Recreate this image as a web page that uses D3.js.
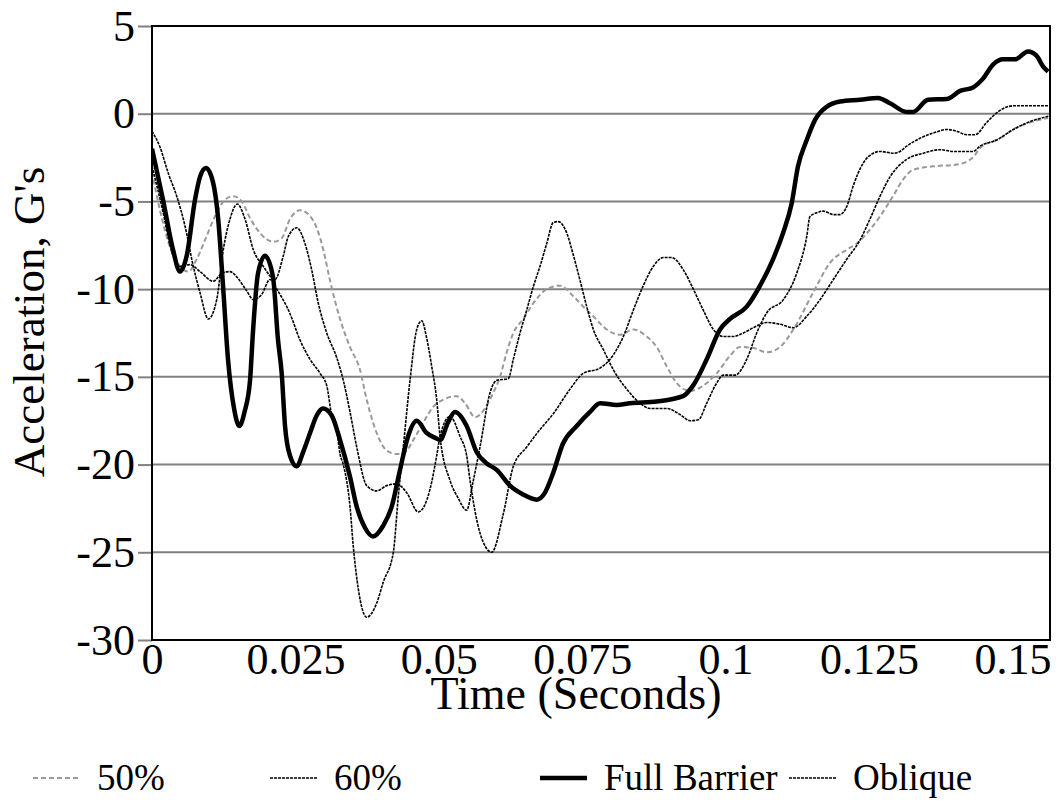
<!DOCTYPE html>
<html>
<head>
<meta charset="utf-8">
<script src="https://cdn.jsdelivr.net/npm/d3@7/dist/d3.min.js"></script>
<style>
  body { margin: 0; background: #fff; }
  svg { display: block; }
  text { font-family: "Liberation Serif", "Times New Roman", serif; fill: #000; }
</style>
</head>
<body>
<svg id="chart" width="1062" height="808"></svg>
<script>
// Axis ticks
const timeTicks = [0, 0.025, 0.05, 0.075, 0.1, 0.125, 0.15];
const timeTickLabels = ["0", "0.025", "0.05", "0.075", "0.1", "0.125", "0.15"];
const accelTicks = [5, 0, -5, -10, -15, -20, -25, -30];

// Series: [time (s), acceleration (G's)]
const offset50 = [
  [0, -3.3], [0.00139, -5.5], [0.00314, -7.6], [0.00488, -8.7], [0.00633, -9.0], [0.00779, -8.3],
  [0.00924, -7.2], [0.01098, -5.85], [0.01273, -4.9], [0.01417, -4.7], [0.01564, -5.0], [0.01709, -5.95],
  [0.01883, -6.8], [0.02115, -7.3], [0.02261, -7.1], [0.02406, -6.0], [0.0258, -5.5], [0.02812, -6.1],
  [0.02986, -7.75], [0.03103, -9.5], [0.03278, -11.7], [0.03452, -13.3], [0.03626, -14.6], [0.03743, -16.3],
  [0.03917, -18.2], [0.04092, -19.2], [0.04266, -19.4], [0.04411, -19.3], [0.04555, -18.6], [0.0473, -17.6],
  [0.04904, -16.7], [0.05078, -16.3], [0.05312, -16.1], [0.05457, -16.5], [0.05631, -17.3], [0.05805, -16.8],
  [0.0595, -15.9], [0.06067, -15.0], [0.06184, -13.6], [0.06299, -12.5], [0.06473, -11.7], [0.06648, -10.8],
  [0.06881, -10.0], [0.07113, -9.8], [0.07345, -10.4], [0.07519, -11.0], [0.07694, -11.55], [0.07927, -12.3],
  [0.08159, -12.6], [0.08391, -12.3], [0.08624, -12.7], [0.08799, -13.3], [0.08973, -14.4], [0.09147, -15.35],
  [0.09379, -15.8], [0.09611, -15.5], [0.09845, -14.8], [0.10077, -13.8], [0.10251, -13.3], [0.10483, -13.35],
  [0.10716, -13.6], [0.10948, -13.3], [0.1118, -12.3], [0.11524, -10.2], [0.1182, -8.5], [0.12111, -7.75],
  [0.12285, -7.4], [0.12517, -6.6], [0.12692, -5.85], [0.12918, -4.7], [0.13093, -3.75], [0.13267, -3.2],
  [0.13616, -3.0], [0.14029, -2.9], [0.14313, -2.5], [0.14435, -1.95], [0.14784, -1.4], [0.1501, -0.9],
  [0.15307, -0.5], [0.15621, -0.25]
];

const offset60 = [
  [0, -1.0], [0.00139, -1.9], [0.00284, -3.4], [0.00431, -4.7], [0.00575, -6.4], [0.0072, -8.7],
  [0.00837, -10.2], [0.00982, -11.7], [0.01128, -10.6], [0.01243, -7.75], [0.0136, -6.0], [0.01487, -5.15],
  [0.01621, -6.0], [0.01766, -7.75], [0.0194, -8.7], [0.02144, -9.45], [0.02289, -8.1], [0.02376, -7.0],
  [0.02523, -6.5], [0.02667, -7.4], [0.02784, -8.9], [0.02899, -10.8], [0.03046, -12.5], [0.0322, -13.9],
  [0.03335, -15.2], [0.03452, -17.0], [0.03569, -19.0], [0.03743, -21.2], [0.03917, -21.5], [0.04092, -21.2],
  [0.04266, -21.1], [0.0444, -21.6], [0.04643, -22.7], [0.04847, -21.4], [0.04963, -19.5], [0.05021, -18.4],
  [0.05195, -17.25], [0.0537, -18.4], [0.05486, -19.5], [0.05544, -20.9], [0.05718, -23.9], [0.05922, -25.0],
  [0.06125, -22.8], [0.06299, -20.1], [0.06532, -19.0], [0.06764, -18.0], [0.06996, -17.1], [0.07287, -15.7],
  [0.07519, -14.8], [0.0781, -14.5], [0.07985, -14.0], [0.08217, -12.7], [0.08391, -11.2], [0.08565, -9.8],
  [0.0874, -8.7], [0.08914, -8.2], [0.0906, -8.2], [0.09263, -8.9], [0.09437, -10.0], [0.09611, -11.2],
  [0.09786, -12.3], [0.0996, -12.7], [0.10135, -12.7], [0.10308, -12.5], [0.10483, -12.2], [0.10716, -11.9],
  [0.10948, -12.0], [0.1118, -12.2], [0.11414, -11.55], [0.11646, -10.6], [0.11878, -9.45], [0.12111, -8.3],
  [0.12343, -7.2], [0.12517, -6.0], [0.12692, -4.7], [0.12866, -3.6], [0.13157, -2.6], [0.13447, -2.25],
  [0.13738, -2.05], [0.13969, -2.15], [0.14318, -2.15], [0.14435, -1.85], [0.14726, -1.5], [0.15016, -0.9],
  [0.15307, -0.45], [0.15626, -0.15]
];

const fullBarrier = [
  [0, -2.0], [0.00192, -4.9], [0.00366, -7.75], [0.00488, -9.0], [0.00605, -8.1], [0.0075, -4.9],
  [0.00837, -3.6], [0.00941, -3.1], [0.01063, -3.9], [0.01151, -5.9], [0.01238, -9.8], [0.01325, -14.0],
  [0.0143, -16.8], [0.01522, -17.8], [0.01613, -17.0], [0.01709, -15.2], [0.01761, -12.4], [0.01848, -9.1],
  [0.0197, -8.1], [0.02109, -9.3], [0.02197, -12.9], [0.02261, -14.8], [0.02319, -17.8], [0.02406, -19.5],
  [0.02523, -20.1], [0.02633, -19.3], [0.02755, -18.2], [0.02871, -17.2], [0.02981, -16.8], [0.03133, -17.2],
  [0.03278, -18.6], [0.03452, -20.7], [0.03569, -22.4], [0.03713, -23.6], [0.03853, -24.1], [0.04027, -23.5],
  [0.04179, -22.4], [0.04324, -20.3], [0.04463, -18.4], [0.04615, -17.5], [0.04789, -18.2], [0.04951, -18.5],
  [0.05021, -18.6], [0.0516, -17.6], [0.05282, -17.0], [0.05486, -17.8], [0.05661, -19.3], [0.05823, -19.9],
  [0.06009, -20.3], [0.06241, -21.2], [0.06468, -21.7], [0.06707, -22.0], [0.06851, -21.6], [0.06991, -20.5],
  [0.07165, -18.8], [0.07404, -17.8], [0.07636, -17.0], [0.0781, -16.5], [0.08101, -16.6], [0.08333, -16.5],
  [0.08799, -16.4], [0.09257, -16.1], [0.09432, -15.5], [0.09671, -14.0], [0.09902, -12.3], [0.10077, -11.7],
  [0.10368, -11.0], [0.106, -9.8], [0.10826, -8.3], [0.11001, -6.8], [0.11152, -5.1], [0.11262, -3.0],
  [0.11414, -1.5], [0.11559, -0.35], [0.11763, 0.4], [0.11994, 0.7], [0.12343, 0.8], [0.12657, 0.9],
  [0.12866, 0.6], [0.13158, 0.1], [0.13267, 0.1], [0.13529, 0.8], [0.13855, 0.84], [0.14086, 1.3],
  [0.14313, 1.5], [0.14487, 2.0], [0.14662, 2.8], [0.14836, 3.1], [0.15045, 3.1], [0.15272, 3.55],
  [0.15423, 3.3], [0.15533, 2.7], [0.15621, 2.4]
];

const oblique = [
  [0, -3.0], [0.00192, -5.6], [0.00314, -7.5], [0.00488, -8.7], [0.00662, -8.6], [0.00837, -9.0],
  [0.01069, -9.55], [0.01215, -9.1], [0.0136, -9.0], [0.01477, -9.3], [0.01651, -10.1], [0.01766, -10.6],
  [0.01912, -10.3], [0.02057, -9.45], [0.02174, -10.0], [0.02406, -11.4], [0.0258, -12.9], [0.02755, -14.0],
  [0.02929, -14.8], [0.03046, -15.5], [0.03133, -17.2], [0.0322, -18.0], [0.03278, -19.4], [0.03335, -20.0],
  [0.03452, -22.4], [0.0351, -24.7], [0.03597, -27.1], [0.03743, -28.7], [0.03917, -27.9], [0.04032, -26.7],
  [0.04207, -25.0], [0.04294, -21.8], [0.04381, -19.0], [0.04498, -15.2], [0.04615, -12.3], [0.04702, -11.8],
  [0.04789, -12.8], [0.04876, -14.4], [0.04963, -16.3], [0.05021, -18.4], [0.05195, -20.9], [0.05335, -21.9],
  [0.05486, -22.6], [0.05596, -21.0], [0.05718, -19.0], [0.05893, -15.9], [0.06009, -15.2], [0.06212, -15.1],
  [0.06299, -14.0], [0.06416, -12.5], [0.06532, -11.2], [0.06648, -9.85], [0.06764, -8.7], [0.06881, -7.4],
  [0.06996, -6.2], [0.07083, -6.15], [0.0723, -6.8], [0.0734, -8.0], [0.07462, -9.5], [0.07579, -11.0],
  [0.07694, -12.3], [0.07869, -13.45], [0.08043, -14.6], [0.08276, -15.7], [0.08508, -16.5], [0.08682, -16.8],
  [0.08973, -16.8], [0.09205, -17.15], [0.09379, -17.5], [0.09524, -17.45], [0.09671, -16.5], [0.09845, -15.35],
  [0.0996, -14.9], [0.10164, -14.9], [0.10368, -14.0], [0.10542, -12.5], [0.10716, -11.35], [0.11006, -10.6],
  [0.11239, -9.1], [0.11414, -7.0], [0.11471, -5.85], [0.11588, -5.65], [0.11703, -5.55], [0.11878, -5.75],
  [0.11994, -5.75], [0.12111, -5.3], [0.12226, -4.1], [0.12401, -2.8], [0.12575, -2.25], [0.12692, -2.15],
  [0.12924, -2.25], [0.1304, -2.15], [0.13157, -1.85], [0.13389, -1.4], [0.13621, -1.1], [0.13855, -0.9],
  [0.14029, -1.0], [0.14203, -1.2], [0.14348, -1.2], [0.1455, -0.5], [0.14726, 0.05], [0.14842, 0.3],
  [0.15016, 0.45], [0.15626, 0.45]
];

const seriesNames = ["50%", "60%", "Full Barrier", "Oblique"];
const seriesData = [offset50, offset60, fullBarrier, oblique];
const seriesStyles = [
  { stroke: "#999999", width: 2, dash: "5,3" },
  { stroke: "#000000", width: 1.6, dash: "3,1" },
  { stroke: "#000000", width: 4.5, dash: null },
  { stroke: "#000000", width: 1.6, dash: "3,1" }
];

const serif = '"Liberation Serif", "Times New Roman", serif';
const svg = d3.select("#chart");
const plot = { left: 152, right: 1050, top: 26, bottom: 640 };

const x = d3.scaleLinear().domain([0, 0.15655]).range([plot.left, plot.right]);
const y = d3.scaleLinear().domain([-30, 5]).range([plot.bottom, plot.top]);

// Horizontal gridlines
svg.append("g")
  .selectAll("line")
  .data(accelTicks)
  .join("line")
  .attr("x1", plot.left).attr("x2", plot.right)
  .attr("y1", d => y(d)).attr("y2", d => y(d))
  .attr("stroke", "#808080").attr("stroke-width", 2);

// Y axis (grey outward ticks, labels on the left, plain hyphen minus)
const yAxis = svg.append("g")
  .attr("transform", `translate(${plot.left},0)`)
  .call(d3.axisLeft(y).tickValues(accelTicks).tickSize(14).tickPadding(3).tickFormat(d => String(d)));
yAxis.select(".domain").remove();
yAxis.selectAll(".tick line").attr("stroke", "#808080").attr("stroke-width", 2);
yAxis.selectAll(".tick text")
  .style("font-family", serif)
  .style("font-size", "44px").attr("fill", "#000");

// X axis labels
const xAxis = svg.append("g")
  .attr("transform", `translate(0,${plot.bottom})`)
  .call(d3.axisBottom(x).tickValues(timeTicks).tickSize(0).tickPadding(3)
    .tickFormat((d, i) => timeTickLabels[i]));
xAxis.select(".domain").remove();
xAxis.selectAll(".tick text")
  .style("font-family", serif)
  .style("font-size", "44px").attr("fill", "#000");

// Series lines
const line = d3.line()
  .x(d => x(d[0]))
  .y(d => y(d[1]))
  .curve(d3.curveMonotoneX);

svg.append("clipPath").attr("id", "plot-clip")
  .append("rect")
  .attr("x", plot.left).attr("y", plot.top)
  .attr("width", plot.right - plot.left).attr("height", plot.bottom - plot.top);

svg.append("g").attr("clip-path", "url(#plot-clip)")
  .selectAll("path")
  .data(seriesData)
  .join("path")
  .attr("d", d => line(d))
  .attr("fill", "none")
  .attr("stroke", (d, i) => seriesStyles[i].stroke)
  .attr("stroke-width", (d, i) => seriesStyles[i].width)
  .attr("stroke-dasharray", (d, i) => seriesStyles[i].dash)
  .attr("stroke-linejoin", "round");

// Plot frame
svg.append("rect")
  .attr("x", plot.left).attr("y", plot.top)
  .attr("width", plot.right - plot.left).attr("height", plot.bottom - plot.top)
  .attr("fill", "none").attr("stroke", "#000").attr("stroke-width", 2);

// Axis titles
svg.append("text")
  .attr("x", 576).attr("y", 709)
  .attr("text-anchor", "middle")
  .style("font-size", "46px")
  .text("Time (Seconds)");

svg.append("text")
  .attr("transform", "translate(44,322) rotate(-90)")
  .attr("text-anchor", "middle")
  .style("font-size", "45px")
  .text("Acceleration, G's");

// Legend
const legendX = [33, 270, 540, 789];
const legendY = 778;
const legend = svg.append("g");
seriesNames.forEach((name, i) => {
  const s = seriesStyles[i];
  legend.append("line")
    .attr("x1", legendX[i]).attr("x2", legendX[i] + 47)
    .attr("y1", legendY).attr("y2", legendY)
    .attr("stroke", s.stroke).attr("stroke-width", s.width)
    .attr("stroke-dasharray", s.dash);
  legend.append("text")
    .attr("x", legendX[i] + 64).attr("y", legendY + 12)
    .style("font-size", "37px")
    .text(name);
});
</script>
</body>
</html>
